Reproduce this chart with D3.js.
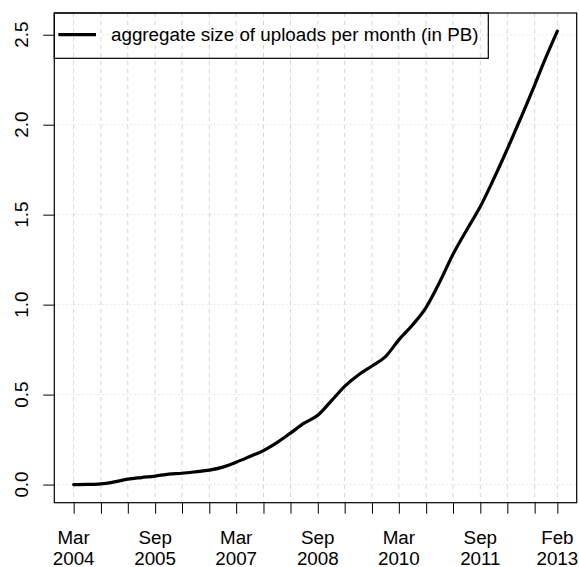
<!DOCTYPE html>
<html>
<head>
<meta charset="utf-8">
<script src="https://cdn.jsdelivr.net/npm/d3@7"></script>
<style>
  body { margin: 0; background: #fff; }
  svg { display: block; font-family: "Liberation Sans", Arial, Helvetica, sans-serif; }
</style>
</head>
<body>
<svg id="chart" width="579" height="567"></svg>
<script>
// months since Mar 2004 and aggregate size (PB)
const months = [0, 3, 6, 9, 12, 15, 18, 21, 24, 27, 30, 33, 36, 39, 42, 45, 48, 51, 54, 57,
    60, 63, 66, 69, 72, 75, 78, 81, 84, 87, 90, 93, 96, 99, 102, 104, 107];
const sizePB = [0.000, 0.001, 0.004, 0.015, 0.030, 0.039, 0.047, 0.058, 0.063, 0.071, 0.080,
    0.097, 0.124, 0.156, 0.189, 0.233, 0.286, 0.341, 0.385, 0.465, 0.546, 0.609, 0.659, 0.711,
    0.804, 0.887, 0.985, 1.125, 1.280, 1.415, 1.545, 1.700, 1.865, 2.040, 2.220, 2.345, 2.520];

// x ticks every 6 months, plus the last month
const tickMonths = [0, 6, 12, 18, 24, 30, 36, 42, 48, 54, 60, 66, 72, 78, 84, 90, 96, 102, 107];
const tickLabels = ["Mar\n2004", "", "", "Sep\n2005", "", "", "Mar\n2007", "", "", "Sep\n2008", "", "",
    "Mar\n2010", "", "", "Sep\n2011", "", "", "Feb\n2013"];
const yTicks = [0, 0.5, 1.0, 1.5, 2.0, 2.5];
const legendLabel = "aggregate size of uploads per month (in PB)";

const fontSize = 18.8;

const toDate = m => new Date(2004, 2 + m, 1);
const data = months.map((m, i) => ({ date: toDate(m), value: sizePB[i] }));

const svg = d3.select('#chart');
const plot = { left: 54.3, right: 576.7, top: 13, bottom: 502.7 };

// R style 4% padding on both axes
const xExt = d3.extent(data, d => d.date.getTime());
const xPad = (xExt[1] - xExt[0]) * 0.04;
const x = d3.scaleTime()
    .domain([new Date(xExt[0] - xPad), new Date(xExt[1] + xPad)])
    .range([plot.left, plot.right]);

const yExt = d3.extent(data, d => d.value);
const yPad = (yExt[1] - yExt[0]) * 0.04;
const y = d3.scaleLinear()
    .domain([yExt[0] - yPad, yExt[1] + yPad])
    .range([plot.bottom, plot.top]);

const tickDates = tickMonths.map(toDate);

// grid
svg.append('g')
    .selectAll('line')
    .data(tickDates)
    .join('line')
    .attr('x1', d => x(d)).attr('x2', d => x(d))
    .attr('y1', plot.top).attr('y2', plot.bottom)
    .attr('stroke', '#d3d3d3')
    .attr('stroke-dasharray', '4,4');

svg.append('g')
    .selectAll('line')
    .data(yTicks)
    .join('line')
    .attr('x1', plot.left).attr('x2', plot.right)
    .attr('y1', d => y(d)).attr('y2', d => y(d))
    .attr('stroke', '#d3d3d3')
    .attr('stroke-dasharray', '1,3');

// x axis
const xAxis = d3.axisBottom(x)
    .tickValues(tickDates)
    .tickSize(11)
    .tickSizeOuter(0)
    .tickFormat('');
const gx = svg.append('g')
    .attr('transform', `translate(0,${plot.bottom})`)
    .call(xAxis);
gx.select('.domain').remove();
gx.selectAll('.tick line').attr('stroke', '#000').attr('stroke-width', 1);

svg.append('g')
    .selectAll('text')
    .data(tickDates.map((d, i) => ({ d, label: tickLabels[i] })).filter(t => t.label))
    .join('text')
    .attr('x', t => x(t.d))
    .attr('text-anchor', 'middle')
    .attr('font-size', fontSize)
    .selectAll('tspan')
    .data(t => t.label.split('\n').map(s => ({ s, xx: x(t.d) })))
    .join('tspan')
    .attr('x', s => s.xx)
    .attr('y', (s, i) => 544 + i * 20.5)
    .text(s => s.s);

// y axis
const yAxis = d3.axisLeft(y)
    .tickValues(yTicks)
    .tickSize(11)
    .tickSizeOuter(0)
    .tickFormat('');
const gy = svg.append('g')
    .attr('transform', `translate(${plot.left},0)`)
    .call(yAxis);
gy.select('.domain').remove();
gy.selectAll('.tick line').attr('stroke', '#000').attr('stroke-width', 1);

svg.append('g')
    .selectAll('text')
    .data(yTicks)
    .join('text')
    .attr('transform', d => `translate(27.5,${y(d)}) rotate(-90)`)
    .attr('text-anchor', 'middle')
    .attr('font-size', fontSize)
    .text(d => d3.format('.1f')(d));

// series
svg.append('path')
    .datum(data)
    .attr('fill', 'none')
    .attr('stroke', '#000')
    .attr('stroke-width', 3.2)
    .attr('stroke-linejoin', 'round')
    .attr('stroke-linecap', 'round')
    .attr('d', d3.line().x(d => x(d.date)).y(d => y(d.value)).curve(d3.curveMonotoneX));

// plot box
svg.append('rect')
    .attr('x', plot.left).attr('y', plot.top)
    .attr('width', plot.right - plot.left).attr('height', plot.bottom - plot.top)
    .attr('fill', 'none')
    .attr('stroke', '#000')
    .attr('stroke-width', 1.2);

// legend
const legend = svg.append('g').attr('transform', `translate(${plot.left},${plot.top})`);
legend.append('rect')
    .attr('width', 434).attr('height', 45.3)
    .attr('fill', 'none')
    .attr('stroke', '#000')
    .attr('stroke-width', 1.2);
legend.append('line')
    .attr('x1', 4).attr('x2', 41.7)
    .attr('y1', 21.7).attr('y2', 21.7)
    .attr('stroke', '#000')
    .attr('stroke-width', 3.2);
legend.append('text')
    .attr('x', 56.7).attr('y', 28.3)
    .attr('font-size', fontSize)
    .text(legendLabel);
</script>
</body>
</html>
